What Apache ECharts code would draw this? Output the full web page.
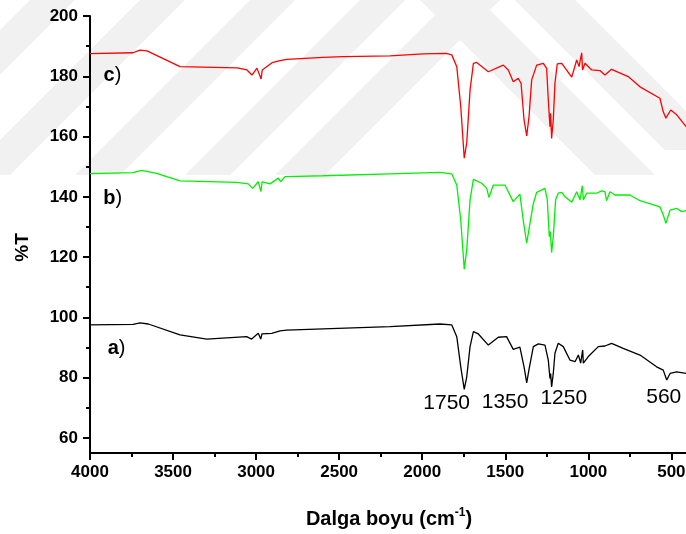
<!DOCTYPE html>
<html>
<head>
<meta charset="utf-8">
<script src="https://cdn.jsdelivr.net/npm/echarts@6/dist/echarts.min.js"></script>
<style>
  html, body { margin: 0; padding: 0; background: #fff; }
  #chart { width: 686px; height: 534px; }
</style>
</head>
<body>
<div id="chart"></div>
<script>
// wavenumber (cm-1) / %T
const wnC = [4000,3741,3699,3657,3458,3115,3055,3025,2995,2970,2963,2904,2856,2814,2597,2477,2194,1995,1857,1822,1792,1768,1747,1732,1712,1692,1672,1602,1512,1482,1452,1422,1405,1387,1371,1357,1341,1311,1271,1251,1241,1231,1227,1221,1211,1201,1187,1160,1100,1070,1056,1040,1035,1020,980,930,900,860,760,689,569,549,533,504,468,400];
const tC = [187.5,187.8,188.7,188.4,183.2,182.8,182.1,180.4,182.7,179.1,182.1,184.5,185.2,185.6,186.3,186.5,186.8,187.4,187.6,187.1,183.2,169.9,152.8,157.9,175.4,184.3,184.6,181.5,183.7,182.1,178.2,179.3,177.7,165.5,160.2,166.6,178.8,183.7,184.3,182.6,172.1,163.3,167.7,159.4,165.5,177.7,184.1,184.3,179.7,185.4,183.2,187.8,182.1,184.3,182.1,181.9,180.4,182.3,179.9,176.5,172.7,168.2,166.1,168.8,167.2,162.5];

const wnB = [4000,3741,3689,3599,3458,3117,3047,3021,2987,2971,2964,2916,2866,2852,2826,2596,2194,1893,1822,1792,1768,1747,1732,1712,1692,1642,1612,1598,1572,1502,1452,1412,1392,1371,1356,1331,1311,1261,1247,1235,1229,1221,1211,1197,1181,1160,1140,1100,1070,1050,1036,1030,1010,950,920,900,890,870,840,749,689,569,549,533,508,468,438,400];
const tB = [147.7,148.0,148.8,147.8,145.3,144.8,144.3,142.8,145.0,141.7,145.0,144.3,146.2,145.0,146.7,147.0,147.6,148.1,147.6,143.9,132.3,116.0,122.4,139.0,145.8,144.5,142.8,139.8,143.9,143.9,138.4,140.9,132.3,124.6,129.6,137.8,141.5,142.8,139.0,126.8,128.5,121.5,126.8,139.0,141.2,141.5,140.0,138.2,141.7,139.0,143.7,139.0,141.2,141.2,142.0,141.7,138.7,141.7,140.6,140.6,138.7,136.7,134.0,131.2,135.6,136.2,135.1,135.6];

const wnA = [4000,3741,3699,3649,3458,3297,3057,3027,2987,2972,2965,2906,2856,2848,2816,2596,2194,1893,1822,1792,1768,1747,1732,1712,1692,1662,1602,1542,1492,1452,1412,1387,1371,1356,1331,1301,1261,1241,1231,1227,1221,1211,1201,1181,1151,1110,1080,1060,1046,1034,1030,1000,940,900,860,790,689,589,549,528,508,468,400];
const tA = [97.5,97.7,98.2,97.8,94.2,92.8,93.6,92.8,94.7,92.8,94.5,94.7,95.5,94.9,95.8,96.2,96.9,97.8,97.5,93.6,83.6,76.1,80.3,90.3,95.3,94.5,90.8,93.4,93.6,89.4,90.1,83.6,78.3,83.1,90.3,91.2,90.8,85.8,79.7,81.4,76.9,81.4,88.1,91.4,90.3,85.8,85.3,87.5,84.8,89.2,84.8,87.0,90.3,90.5,91.4,89.7,87.5,83.6,82.5,79.2,81.4,81.9,81.3];

const xTicks = [4000, 3500, 3000, 2500, 2000, 1500, 1000, 500];
const xMinorTicks = [3750, 3250, 2750, 2250, 1750, 1250, 750];
const yTicks = [60, 80, 100, 120, 140, 160, 180, 200];
const yMinorTicks = [70, 90, 110, 130, 150, 170, 190];

const peakLabels = ['1750', '1350', '1250', '560'];
const peakLabelWn = [1853, 1501, 1148, 546];
const peakLabelT = [71.4, 71.7, 73.2, 73.4];

const curveLabels = ['a', 'b', 'c'];
const curveLabelWn = [3840, 3863, 3865];
const curveLabelT = [89.7, 139.3, 180.1];

const FONT = 'Arial, "Liberation Sans", sans-serif';

const chart = echarts.init(document.getElementById('chart'));

const pairs = (xs, ys) => xs.map((x, i) => [x, ys[i]]);

// faint diagonal watermark in the background
const stripe = (c, w) => ({
  type: 'polygon', z: -10, silent: true,
  shape: { points: [[c, 0], [c + w, 0], [c + w - 175, 175], [c - 175, 175]] },
  style: { fill: '#f1f1f1' }
});
const stripeDown = (c, w, h) => ({
  type: 'polygon', z: -10, silent: true,
  shape: { points: [[c, 0], [c + w, 0], [c + w + h, h], [c + h, h]] },
  style: { fill: '#f1f1f1' }
});

const axisCommon = {
  axisLine: { show: true, lineStyle: { color: '#000', width: 2 } },
  splitLine: { show: false },
};
const plain = v => String(v);

chart.setOption({
  animation: false,
  backgroundColor: '#fff',
  graphic: [
    stripe(30, 45), stripe(140, 45), stripe(250, 45), stripe(360, 45),
    stripe(450, 50),
    stripeDown(420, 60, 175),
    stripeDown(515, 60, 150),
  ],
  grid: { left: 90, top: 16, width: 598, height: 437, outerBoundsMode: 'none', containLabel: false },
  xAxis: [
    {
      ...axisCommon,
      type: 'value', inverse: true, min: 400, max: 4000,
      name: 'Dalga boyu (cm{sup|-1})',
      nameLocation: 'middle', nameGap: 54,
      nameTextStyle: {
        fontFamily: FONT, fontSize: 20, fontWeight: 'bold', color: '#000',
        rich: { sup: { fontFamily: FONT, fontSize: 12, fontWeight: 'bold', verticalAlign: 'bottom', padding: [0, 0, 13, 0] } }
      },
      axisTick: { show: true, customValues: xTicks, length: 7, inside: false, lineStyle: { color: '#000', width: 2 } },
      axisLabel: { customValues: xTicks, formatter: plain, fontFamily: FONT, fontSize: 17, fontWeight: 'bold', color: '#000', margin: 11 },
    },
    {
      type: 'value', inverse: true, min: 400, max: 4000, position: 'bottom',
      axisLine: { show: false }, splitLine: { show: false }, axisLabel: { show: false },
      axisTick: { show: true, customValues: xMinorTicks, length: 4, lineStyle: { color: '#000', width: 2 } },
    }
  ],
  yAxis: [
    {
      ...axisCommon,
      type: 'value', min: 55, max: 200,
      name: '%T', nameLocation: 'middle', nameGap: 58,
      nameTextStyle: { fontFamily: FONT, fontSize: 19, fontWeight: 'bold', color: '#000', padding: [0, 26, 0, 0] },
      axisTick: { show: true, customValues: yTicks, length: 7, lineStyle: { color: '#000', width: 2 } },
      axisLabel: { customValues: yTicks, formatter: plain, fontFamily: FONT, fontSize: 17, fontWeight: 'bold', color: '#000', margin: 12 },
    },
    {
      type: 'value', min: 55, max: 200, position: 'left',
      axisLine: { show: false }, splitLine: { show: false }, axisLabel: { show: false },
      axisTick: { show: true, customValues: yMinorTicks, length: 4, lineStyle: { color: '#000', width: 2 } },
    }
  ],
  series: [
    {
      type: 'line', data: pairs(wnA, tA), showSymbol: false,
      lineStyle: { color: '#000000', width: 1.3 }, itemStyle: { color: '#000' },
      markPoint: {
        symbol: 'circle', symbolSize: 0, silent: true,
        label: { show: true, position: 'inside', fontFamily: FONT, fontSize: 21, color: '#000', formatter: p => p.name },
        data: peakLabels.map((t, i) => ({ name: t, coord: [peakLabelWn[i], peakLabelT[i]] })),
      }
    },
    { type: 'line', data: pairs(wnB, tB), showSymbol: false, lineStyle: { color: '#00f000', width: 1.3 }, itemStyle: { color: '#00f000' } },
    { type: 'line', data: pairs(wnC, tC), showSymbol: false, lineStyle: { color: '#ff0000', width: 1.3 }, itemStyle: { color: '#ff0000' } },
    {
      type: 'scatter', data: [], silent: true,
      markPoint: {
        symbol: 'circle', symbolSize: 0, silent: true,
        label: {
          show: true, position: 'inside', color: '#000',
          formatter: p => '{b|' + p.name + '}{r|)}',
          rich: {
            b: { fontFamily: FONT, fontSize: 20, fontWeight: 'bold', color: '#000' },
            r: { fontFamily: FONT, fontSize: 20, color: '#000' }
          }
        },
        data: curveLabels.map((t, i) => ({ name: t, coord: [curveLabelWn[i], curveLabelT[i]] })),
      }
    }
  ]
});
</script>
</body>
</html>
